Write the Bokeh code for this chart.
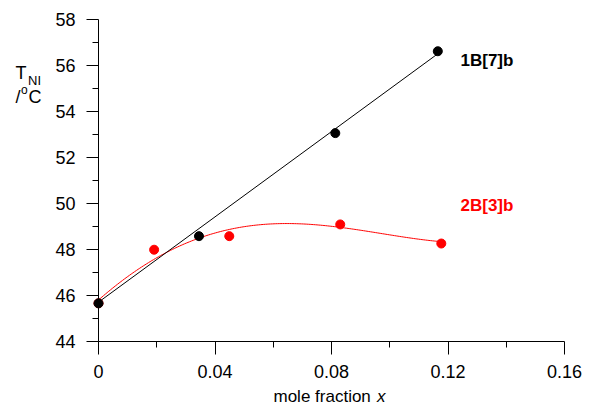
import numpy as np
from bokeh.plotting import figure
from bokeh.models import Range1d, FixedTicker, Label
from bokeh.embed import file_html
from bokeh.resources import INLINE

# ---- data ----
x_1B = [0.0, 0.0345, 0.0813, 0.1165]
y_1B = [45.66, 48.58, 53.06, 56.62]

x_2B = [0.0, 0.0191, 0.0449, 0.0830, 0.1177]
y_2B = [45.66, 47.99, 48.58, 49.09, 48.26]

# fitted line of 1B[7]b (end points)
fit_1B_x = [0.0, 0.1165]
fit_1B_y = [45.71, 56.51]

# samples read along the red fitted curve of 2B[3]b
curve_2B_x = [0.0, 0.0025, 0.0105, 0.0174, 0.0243, 0.0323, 0.0466, 0.0581,
              0.0649, 0.0787, 0.0896, 0.1010, 0.1125, 0.1176]
curve_2B_y = [45.81, 46.07, 46.87, 47.45, 47.91, 48.39, 48.94, 49.12,
              49.12, 49.00, 48.83, 48.64, 48.43, 48.32]

x_ticks = [0, 0.04, 0.08, 0.12, 0.16]
x_tick_labels = ["0", "0.04", "0.08", "0.12", "0.16"]
x_minor = [0.02, 0.06, 0.10, 0.14]
y_ticks = [44, 46, 48, 50, 52, 54, 56, 58]
y_minor = [45, 47, 49, 51, 53, 55, 57]
x_lo, x_hi = 0.0, 0.16
y_lo, y_hi = 44, 58

FONT = "Liberation Sans"
RED = "#ff0000"

W, H = 598, 405
# pixel layout of the axes box inside the canvas
AX_L, AX_W, AX_T, AX_H = 98, 466, 19, 322
sx = (x_hi - x_lo) / AX_W
sy = (y_hi - y_lo) / AX_H
xr = Range1d(x_lo - AX_L * sx, x_lo + (W - AX_L) * sx)
yr = Range1d(y_lo - (H - AX_T - AX_H) * sy, y_hi + AX_T * sy)

p = figure(width=W, height=H, output_backend="svg", toolbar_location=None,
           x_range=xr, y_range=yr, title=None,
           min_border_left=0, min_border_right=0, min_border_top=0,
           min_border_bottom=0)
p.outline_line_color = None
p.xgrid.visible = False
p.ygrid.visible = False

# smooth red curve: polynomial through the read samples
coef = np.polyfit(curve_2B_x, curve_2B_y, 4)
xx = np.linspace(curve_2B_x[0], curve_2B_x[-1], 200)
p.line(xx, np.polyval(coef, xx), line_color=RED, line_width=1)
p.line(fit_1B_x, fit_1B_y, line_color="black", line_width=1)

p.scatter(x_2B, y_2B, size=9, fill_color=RED, line_color=RED)
p.scatter(x_1B, y_1B, size=9, fill_color="black", line_color="black")

for ax in (p.xaxis[0], p.yaxis[0]):
    ax.axis_line_color = "black"
    ax.major_tick_line_color = "black"
    ax.minor_tick_line_color = "black"
    ax.major_tick_in = 0
    ax.minor_tick_in = 0
    ax.major_label_text_font = FONT
    ax.major_label_text_font_size = "18px"
    ax.major_label_text_color = "black"

xa = p.xaxis[0]
xa.ticker = FixedTicker(ticks=x_ticks, minor_ticks=x_minor)
xa.major_label_overrides = {t: l for t, l in zip(x_ticks, x_tick_labels)}
xa.major_tick_out = 13
xa.minor_tick_out = 6
xa.major_label_standoff = 10
xa.fixed_location = y_lo
xa.bounds = (x_lo, x_hi)

ya = p.yaxis[0]
ya.ticker = FixedTicker(ticks=y_ticks, minor_ticks=y_minor)
ya.major_tick_out = 12
ya.minor_tick_out = 6
ya.major_label_standoff = 11
ya.fixed_location = x_lo
ya.bounds = (y_lo, y_hi)

def lab(text, x, y, size=18, color="black", style="normal"):
    # x, y: canvas pixels from the top-left corner (text baseline)
    y_adj = y - 0.4 * size
    p.add_layout(Label(x=x, y=H - y_adj, x_units="screen", y_units="screen",
                       text=text, text_font=FONT, text_font_size=f"{size}px",
                       text_color=color, text_font_style=style,
                       text_baseline="alphabetic", text_align="left"))

# series labels
lab("1B[7]b", 460, 67, size=17, style="bold")
lab("2B[3]b", 460, 212, size=17, color=RED, style="bold")

# y axis title
lab("T", 15, 80)
lab("NI", 27.5, 85.5, size=13)
lab("/", 15, 104)
lab("o", 20.5, 94, size=12)
lab("C", 28, 104)

# x axis title
lab("mole fraction", 273, 402.5, size=17)
lab("x", 376.5, 402.5, size=17, style="italic")

open("out.html", "w").write(file_html(p, INLINE))
